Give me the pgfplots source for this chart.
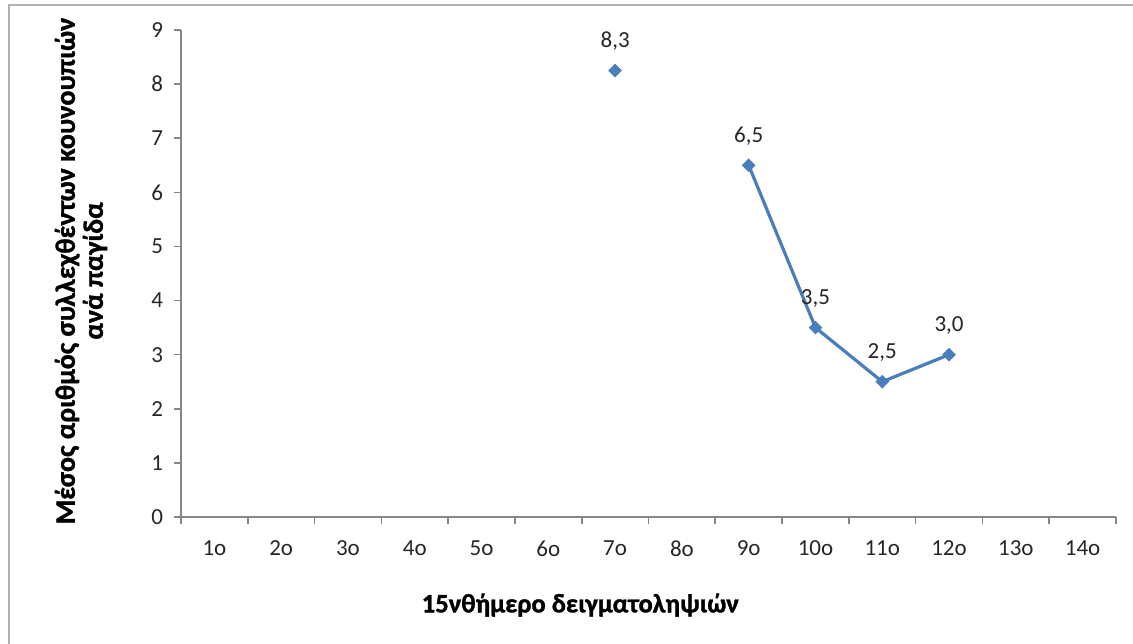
\documentclass[border=0pt]{standalone}
\usepackage{pgfplots}
\pgfplotsset{compat=1.18}
\usepackage{pgfplotstable}
\usepackage{fontspec}
\setmainfont{Carlito}
\newfontfamily\titlefont[FakeBold=1.2]{Carlito Bold}
\definecolor{serblue}{HTML}{4A7EBB}
\definecolor{axgray}{HTML}{868686}
\pgfplotstableread{
x y lab
7 8.25 {8,3}
8 nan {}
9 6.5 {6,5}
10 3.5 {3,5}
11 2.5 {2,5}
12 3.0 {3,0}
}\datatable
\begin{document}
\begin{tikzpicture}
\begin{axis}[
  at={(90.5pt,63pt)}, anchor=south west,
  scale only axis, width=467.5pt, height=243.5pt,
  xmin=0.5, xmax=14.5, ymin=0, ymax=9,
  axis lines=left, axis line style={-, axgray, line width=0.8pt},
  xtick={1,...,14},
  xticklabels={1o,2o,3o,4o,5o,6o,7o,8o,9o,10o,11o,12o,13o,14o},
  major x tick style={draw=none},
  minor xtick={0.5,1.5,...,14.5},
  minor x tick style={axgray, line width=0.8pt},
  minor tick length=3.5pt,
  ytick={0,...,9},
  y tick style={axgray, line width=0.8pt},
  major tick length=3.5pt,
  tick align=outside,
  tick label style={font=\fontsize{11.5}{13}\selectfont, text=black!85},
  xticklabel style={yshift=-5pt},
  yticklabel style={xshift=-2pt},
  /pgf/number format/assume math mode=true,
  unbounded coords=jump,
  clip=false,
]
\addplot[serblue, line width=1.6pt, mark=square*, mark size=2.2pt,
  mark options={fill=serblue, draw=serblue, line width=0.4pt, rotate=45},
  point meta=explicit symbolic,
  nodes near coords,
  nodes near coords style={font=\fontsize{11.5}{13}\selectfont, text=black!85, anchor=south, yshift=6.5pt},
] table[x=x, y=y, meta=lab] {\datatable};
\node[font=\titlefont\fontsize{13.3}{15}\selectfont, anchor=center] at (rel axis cs:0.427,0) [yshift=-44pt] {15νθήμερο δειγματοληψιών};
\end{axis}
\node[rotate=90, align=center, font=\titlefont\fontsize{14}{14}\selectfont] at (40.5pt,186pt) {Μέσος αριθμός συλλεχθέντων κουνουπιών\\ανά παγίδα};
\draw[gray!60, line width=1pt] (4.5pt,-20pt) rectangle (590pt,319pt);
\pgfresetboundingbox
\useasboundingbox (0,0) rectangle (566.5pt,321.5pt);
\end{tikzpicture}
\end{document}
